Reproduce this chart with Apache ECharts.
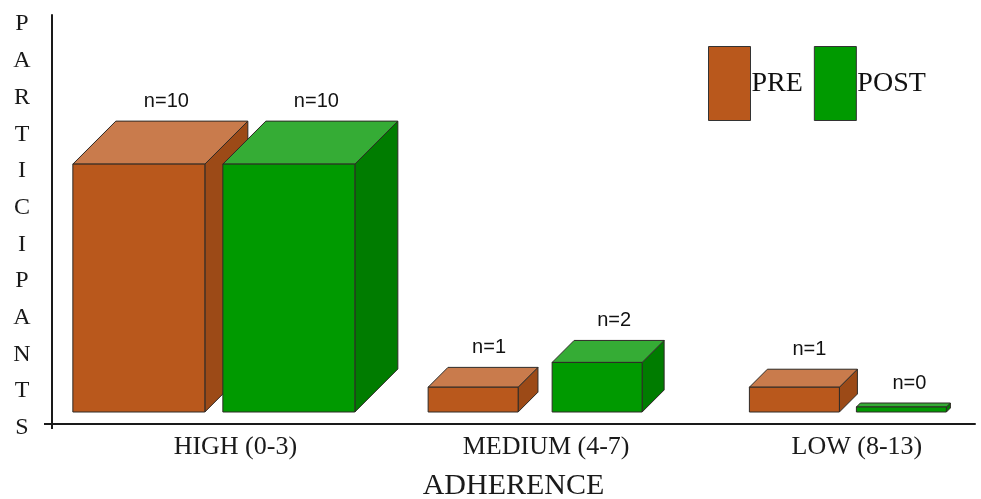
<!DOCTYPE html>
<html>
<head>
<meta charset="utf-8">
<script src="https://cdn.jsdelivr.net/npm/echarts@6/dist/echarts.min.js"></script>
<style>
  html, body { margin: 0; padding: 0; background: #ffffff; }
  #chart { width: 981px; height: 499px; }
</style>
</head>
<body>
<div id="chart"></div>
<script>
// Adherence groups and participant counts before / after
const categories = ['HIGH (0-3)', 'MEDIUM (4-7)', 'LOW (8-13)'];
const preCounts = [10, 1, 1];
const postCounts = [10, 2, 0];
const groupNames = ['PRE', 'POST'];
const yAxisTitle = 'PARTICIPANTS';
const xAxisTitle = 'ADHERENCE';

// Face colours of the 3D boxes
const palette = {
  PRE:  { front: '#B9581C', top: '#C97B4C', side: '#9C4A17' },
  POST: { front: '#009A00', top: '#35AC35', side: '#007C00' }
};
// Box geometry per category (pixels)
const boxWidth = [132, 90, 90];
const boxGap = [18, 34, 17];
const boxDepth = [43, 22, 18];
const FLOOR = 12;   // boxes stand slightly behind the axis line
const MIN_H = 5;    // a zero count still shows as a thin slab
const EDGE = '#2e2a26';
const SERIF = '"Liberation Serif", "Times New Roman", serif';
const SANS = '"Liberation Sans", Arial, sans-serif';

function renderBox(params, api) {
  const ci = api.value(0);
  const v = api.value(1);
  const k = params.seriesIndex;
  const col = palette[groupNames[k]];
  const w = boxWidth[ci], g = boxGap[ci], D = boxDepth[ci];
  const origin = api.coord([ci, 0]);
  const base = origin[1] - FLOOR;
  let top = api.coord([ci, v])[1] - FLOOR;
  if (base - top < MIN_H) top = base - MIN_H;
  const h = base - top;
  const d = Math.min(D, Math.max(3, h * 0.8));
  const groupW = 2 * w + g + D;
  const x0 = origin[0] - groupW / 2 + k * (w + g);
  const x1 = x0 + w;
  const edge = { stroke: EDGE, lineWidth: 1 };
  return {
    type: 'group',
    children: [
      {
        type: 'polygon',
        shape: { points: [[x1, top], [x1 + d, top - d], [x1 + d, base - d], [x1, base]] },
        style: Object.assign({ fill: col.side }, edge)
      },
      {
        type: 'polygon',
        shape: { points: [[x0, top], [x0 + d, top - d], [x1 + d, top - d], [x1, top]] },
        style: Object.assign({ fill: col.top }, edge)
      },
      {
        type: 'rect',
        shape: { x: x0, y: top, width: w, height: h },
        style: Object.assign({ fill: col.front }, edge)
      },
      {
        type: 'text',
        x: x0 + (w + d) / 2 + 6,
        y: top - d - 20,
        style: {
          text: 'n=' + v,
          fill: '#111111',
          font: '20px ' + SANS,
          align: 'center',
          verticalAlign: 'middle'
        }
      }
    ]
  };
}

const chart = echarts.init(document.getElementById('chart'), null, { renderer: 'canvas' });

const axisLineStyle = { color: '#1a1a1a', width: 2 };

chart.setOption({
  animation: false,
  backgroundColor: '#ffffff',
  grid: { left: 52, right: 6, top: 15, bottom: 75, outerBoundsMode: 'none', containLabel: false },
  legend: {
    data: groupNames,
    left: 708,
    top: 46,
    padding: 0,
    icon: 'rect',
    itemWidth: 42,
    itemHeight: 74,
    itemGap: 11,
    itemStyle: { borderColor: '#333333', borderWidth: 1 },
    textStyle: { fontFamily: SERIF, fontSize: 28, color: '#111111', padding: [10, 0, 0, -4] }
  },
  xAxis: {
    type: 'value',
    min: -0.59,
    max: 2.38,
    axisLine: { show: true, onZero: false, lineStyle: axisLineStyle },
    axisTick: { show: true, customValues: [-0.59], length: 5, lineStyle: axisLineStyle },
    splitLine: { show: false },
    axisLabel: {
      customValues: [0, 1, 2],
      formatter: (val) => categories[Math.round(val)],
      fontFamily: SERIF,
      fontSize: 26,
      color: '#1a1a1a',
      margin: 10
    },
    name: xAxisTitle,
    nameLocation: 'middle',
    nameGap: 47,
    nameTextStyle: { fontFamily: SERIF, fontSize: 30, color: '#1a1a1a' }
  },
  yAxis: {
    type: 'value',
    min: 0,
    max: 16.5,
    axisLine: { show: true, onZero: false, lineStyle: axisLineStyle },
    axisTick: { show: true, customValues: [0], length: 8, lineStyle: axisLineStyle },
    axisLabel: { show: false },
    splitLine: { show: false }
  },
  graphic: [
    {
      type: 'text',
      x: 22,
      y: 226,
      style: {
        text: yAxisTitle.split('').join('\n'),
        font: '24px ' + SERIF,
        lineHeight: 36.7,
        fill: '#1a1a1a',
        align: 'center',
        verticalAlign: 'middle'
      }
    }
  ],
  series: [
    {
      name: groupNames[0],
      type: 'custom',
      renderItem: renderBox,
      itemStyle: { color: palette.PRE.front },
      encode: { x: 0, y: 1 },
      data: preCounts.map((v, i) => [i, v]),
      clip: false
    },
    {
      name: groupNames[1],
      type: 'custom',
      renderItem: renderBox,
      itemStyle: { color: palette.POST.front },
      encode: { x: 0, y: 1 },
      data: postCounts.map((v, i) => [i, v]),
      clip: false
    }
  ]
});
</script>
</body>
</html>
